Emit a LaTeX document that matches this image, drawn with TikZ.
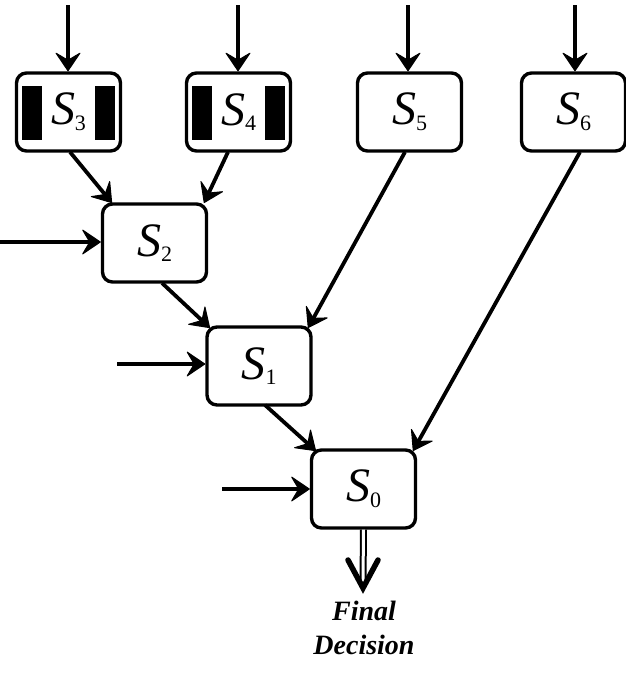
\documentclass[tikz,border=0pt]{standalone}
\usepackage{fontspec}
\setmainfont{Liberation Serif}
\usetikzlibrary{arrows.meta}
\begin{document}
\begin{tikzpicture}[x=1pt,y=-1pt,
  box/.style={draw,line width=3.4pt,rounded corners=10pt,minimum width=104pt,minimum height=78pt,inner sep=0pt},
  lab/.style={font=\fontsize{48}{48}\selectfont},
  arr/.style={line width=3.8pt,-{Stealth[length=20pt,width=27pt,inset=8pt,line width=1pt,round]}},
  bar/.style={fill=black}]
\useasboundingbox (0,0) rectangle (625,673);
\newcommand{\slab}[1]{\textit{S}\raisebox{-0.12em}{\fontsize{22}{22}\selectfont #1}}
\node[box] (s3) at (68.5,112) {};
\node[box] (s4) at (238.5,112) {};
\node[box] (s5) at (409.5,112) {};
\node[box] (s6) at (573.5,112) {};
\node[box] (s2) at (154.5,243) {};
\node[box] (s1) at (259,366) {};
\node[box] (s0) at (363.5,489) {};
\fill[bar] (22,86) rectangle (42,140);
\fill[bar] (95,86) rectangle (115,140);
\fill[bar] (192,86) rectangle (212,140);
\fill[bar] (265,86) rectangle (285,140);
\node[lab] (l3) at (s3) {\slab{3}};
\node[lab] (l4) at (s4) {\slab{4}};
\node[lab] (l5) at (s5) {\slab{5}};
\node[lab] (l6) at (s6) {\slab{6}};
\node[lab] (l2) at (s2) {\slab{2}};
\node[lab] (l1) at (s1) {\slab{1}};
\node[lab] (l0) at (s0) {\slab{0}};
\coordinate (t3) at (68,5);
\coordinate (t4) at (238,5);
\coordinate (t5) at (408,5);
\coordinate (t6) at (575,5);
\coordinate (i2) at (0,242);
\coordinate (i1) at (117,364);
\coordinate (i0) at (222,489);
\draw[arr] (t3) -- (s3.north -| t3);
\draw[arr] (t4) -- (s4.north -| t4);
\draw[arr] (t5) -- (s5.north -| t5);
\draw[arr] (t6) -- (s6.north -| t6);
\draw[arr] (i2) -- (s2.west |- i2);
\draw[arr] (i1) -- (s1.west |- i1);
\draw[arr] (i0) -- (s0.west |- i0);
\coordinate (a3) at (70,152); \coordinate (b3) at (112,203);
\coordinate (a4) at (228,152); \coordinate (b4) at (204,203);
\coordinate (a2) at (162,283); \coordinate (b2) at (210,328);
\coordinate (a5) at (405,152); \coordinate (b5) at (308,328);
\coordinate (a1) at (265,405); \coordinate (b1) at (316,451);
\coordinate (a6) at (580,152); \coordinate (b6) at (413,451);
\draw[arr] (a3) -- (b3);
\draw[arr] (a4) -- (b4);
\draw[arr] (a2) -- (b2);
\draw[arr] (a5) -- (b5);
\draw[arr] (a1) -- (b1);
\draw[arr] (a6) -- (b6);
\coordinate (tip) at (363,588);
\draw[line width=2pt,double,double distance=3pt] (s0.south) -- (363,582);
\draw[line width=5.5pt,line cap=round,line join=miter] (348,560) -- (tip) -- (378,560);
\node[font=\fontsize{28}{34}\selectfont\bfseries\itshape,align=center] (fd) at (364,628) {Final\\Decision};
\end{tikzpicture}
\end{document}
